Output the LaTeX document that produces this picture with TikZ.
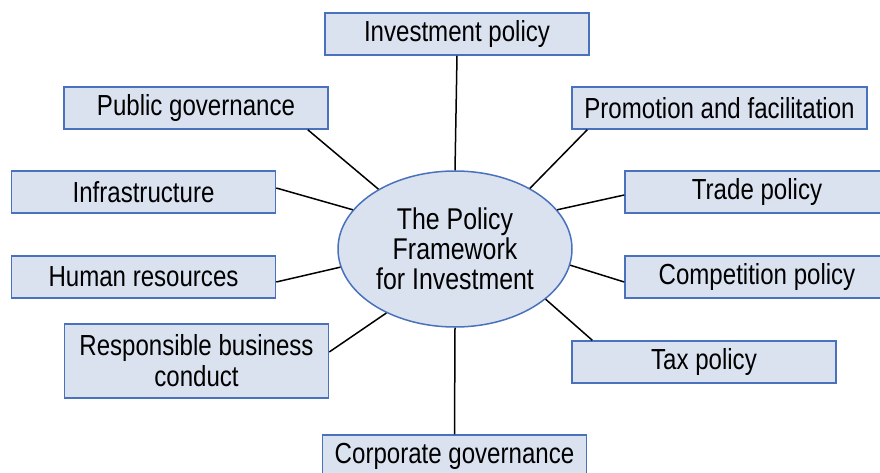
\documentclass[tikz,border=0pt]{standalone}
\usepackage{fontspec}
\setmainfont[FakeStretch=0.83]{Liberation Sans}
\usepackage[HTML]{xcolor}
\usetikzlibrary{positioning, shapes.geometric}

\definecolor{boxfill}{HTML}{DAE1EF}
\definecolor{boxline}{HTML}{4A72BC}

\begin{document}
\begin{tikzpicture}[x=1pt, y=-1pt,
    policy/.style={draw=boxline, fill=boxfill, line width=1.5pt, inner sep=0pt,
        minimum width=264pt, minimum height=42pt, align=center,
        font=\fontsize{29}{31}\selectfont},
    hub/.style={ellipse, draw=boxline, fill=boxfill, line width=1.5pt, inner sep=0pt,
        minimum width=234pt, minimum height=156pt, align=center,
        font=\fontsize{30}{30}\selectfont},
    link/.style={line width=1.5pt, black}]

    \clip (0,0) rectangle (880,473);

    % 1. Define Nodes: hub and the policy boxes
    \node (ell) [hub] at (455,249) {The Policy\\Framework\\for Investment};
    \node (inv) [policy] at (457,34) {Investment policy};
    \node (pg) [policy] at (196,108) {Public governance};
    \node (prom) [policy, minimum width=295pt] at (719.5,108) {Promotion and facilitation};
    \node (infra) [policy] at (143.5,192) {Infrastructure};
    \node (trade) [policy] at (757,192) {Trade policy};
    \node (hr) [policy] at (143.5,277) {Human resources};
    \node (comp) [policy] at (757,277) {Competition policy};
    \node (rbc) [policy, minimum height=74pt] at (196.5,361) {Responsible business\\conduct};
    \node (tax) [policy] at (704,362) {Tax policy};
    \node (cg) [policy] at (454.5,456) {Corporate governance};

    % 2. Draw the spokes from the boxes to the hub
    \draw[link] (inv.south) -- (ell.north);
    \draw[link] ([xshift=-21pt]pg.south east) -- (ell.142);
    \draw[link] ([xshift=16pt]prom.south west) -- (ell.39);
    \draw[link] ([yshift=4pt]infra.east) -- (ell.159);
    \draw[link] ([yshift=-3pt]trade.west) -- (ell.21);
    \draw[link] ([yshift=-5pt]hr.east) -- (ell.189);
    \draw[link] ([yshift=-5pt]comp.west) -- (ell.352);
    \draw[link] ([yshift=9pt]rbc.east) -- (ell.223);
    \draw[link] ([xshift=21pt]tax.north west) -- (ell.331);
    \draw[link] (cg.north) -- (ell.south);
\end{tikzpicture}
\end{document}
